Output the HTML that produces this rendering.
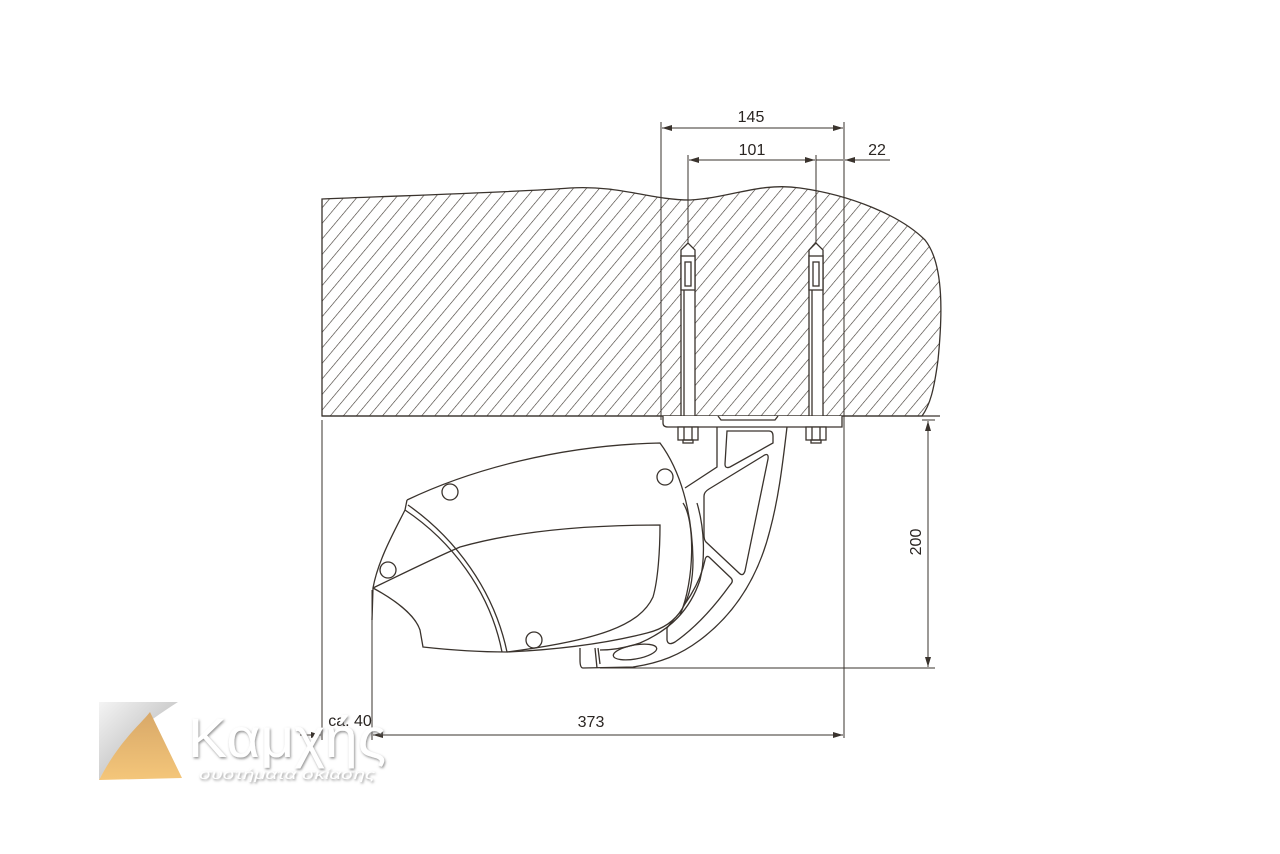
<!DOCTYPE html>
<html><head><meta charset="utf-8"><style>
html,body{margin:0;padding:0;background:#fff;}
svg{display:block}
</style></head><body>
<svg width="1280" height="854" viewBox="0 0 1280 854" xmlns="http://www.w3.org/2000/svg">
<defs>
<pattern id="h" patternUnits="userSpaceOnUse" width="10" height="10" patternTransform="rotate(40)">
<line x1="0" y1="0" x2="0" y2="10" stroke="#3a332d" stroke-width="1.2"/>
</pattern>
<linearGradient id="g1" x1="0" y1="0" x2="1" y2="1"><stop offset="0" stop-color="#f4f4f4"/><stop offset="1" stop-color="#a8a8a8"/></linearGradient>
<linearGradient id="g2" x1="0" y1="0" x2="0" y2="1"><stop offset="0" stop-color="#d8a868"/><stop offset="1" stop-color="#f4c67a"/></linearGradient>
<filter id="sh"><feDropShadow dx="1" dy="1.5" stdDeviation="1.2" flood-color="#777" flood-opacity="0.8"/></filter>
<marker id="a" markerWidth="10" markerHeight="6" refX="10" refY="3" orient="auto-start-reverse" markerUnits="userSpaceOnUse"><path d="M0,0 L10,3 L0,6 z" fill="#3a332d"/></marker>
</defs>
<g stroke="#3a332d" fill="none" stroke-width="1.3">
<path d="M322,199 C420,195 520,192 570,188 C620,185 650,200 690,200 C730,198 760,182 800,188 C850,195 900,215 925,240 C945,265 942,320 938,360 C934,390 930,405 922,416 L322,416 Z" fill="url(#h)"/>
<line x1="322" y1="416" x2="940" y2="416"/>
<g fill="#fff">
<rect x="681" y="256" width="14" height="160"/>
<path d="M681,256 L681,250 L688,243 L695,250 L695,256"/>
<rect x="681" y="256" width="14" height="34"/>
<rect x="685" y="262" width="6" height="24"/>
<rect x="809" y="256" width="14" height="160"/>
<path d="M809,256 L809,250 L816,243 L823,250 L823,256"/>
<rect x="809" y="256" width="14" height="34"/>
<rect x="813" y="262" width="6" height="24"/>
</g>
<line x1="684" y1="290" x2="684" y2="416"/><line x1="812" y1="290" x2="812" y2="416"/>
<line x1="661" y1="122" x2="661" y2="420" stroke-width="1"/>
<line x1="844" y1="122" x2="844" y2="738" stroke-width="1"/>
<line x1="688" y1="155" x2="688" y2="243" stroke-width="1"/>
<line x1="816" y1="155" x2="816" y2="243" stroke-width="1"/>
<line x1="662" y1="128" x2="843" y2="128" stroke-width="1" marker-start="url(#a)" marker-end="url(#a)"/>
<line x1="689" y1="160" x2="815" y2="160" stroke-width="1" marker-start="url(#a)" marker-end="url(#a)"/>
<line x1="816" y1="160" x2="843" y2="160" stroke-width="1"/>
<line x1="890" y1="160" x2="845" y2="160" stroke-width="1" marker-end="url(#a)"/>
<line x1="322" y1="420" x2="322" y2="740" stroke-width="1"/>
<line x1="372" y1="590" x2="372" y2="740" stroke-width="1"/>
<line x1="373" y1="735" x2="843" y2="735" stroke-width="1" marker-start="url(#a)" marker-end="url(#a)"/>
<line x1="300" y1="735" x2="321" y2="735" stroke-width="1" marker-end="url(#a)"/>
<line x1="390" y1="735" x2="373" y2="735" stroke-width="1"/>
<line x1="928" y1="421" x2="928" y2="667" stroke-width="1" marker-start="url(#a)" marker-end="url(#a)"/>
<line x1="600" y1="668" x2="935" y2="668" stroke-width="1"/>
<line x1="922" y1="420" x2="935" y2="420" stroke-width="1"/>
<path d="M663,416 L663,423 Q663,427 668,427 L842,427 L842,416" fill="#fff"/>
<path d="M718,416 L721,420 L775,420 L778,416"/>
<rect x="678" y="427" width="20" height="13" fill="#fff"/><line x1="684" y1="427" x2="684" y2="440"/><line x1="692" y1="427" x2="692" y2="440"/><rect x="683" y="440" width="10" height="3"/>
<rect x="806" y="427" width="20" height="13" fill="#fff"/><line x1="812" y1="427" x2="812" y2="440"/><line x1="820" y1="427" x2="820" y2="440"/><rect x="811" y="440" width="10" height="3"/>
<path d="M717,427 L717,467 L685,488 M787,427 C782,470 778,500 770,530 C760,570 740,610 700,640 C680,655 660,663 633,667 L583,668 Q580,668 580,660 L580,648" />
<path d="M697,503 C705,530 705,560 700,580 C690,610 670,630 640,643 C625,648 612,650 600,650"/>
<path d="M727,431 L769,431 Q773,431 773,436 L773,443 L730,467 Q725,469 725,464 Z"/>
<path d="M709,489 L763,456 Q769,452 768,459 L745,571 Q743,577 739,573 L706,542 Q704,540 704,535 L704,496 Q704,492 709,489 Z"/>
<path d="M709,557 L731,578 Q734,581 730,585 C712,610 695,628 675,642 Q668,646 667,640 L667,628 C685,605 700,585 705,560 Q706,555 709,557 Z"/>
<ellipse cx="635" cy="652" rx="22" ry="7" transform="rotate(-10 635 652)"/>
<path d="M595,648 L597,668 M598,648 L600,664"/>
<path d="M407,500 C470,470 560,445 660,443 C680,470 692,510 693,560 C693,600 680,625 647,633 C600,645 550,650 507,652" fill="#fff"/>
<path d="M683,503 C695,520 695,580 680,615" />
<path d="M407,500 L405,510 C395,530 378,560 373,588 L372,620"/>
<path d="M373,588 C395,600 415,615 420,630 L423,647 C450,650 480,652 507,652"/>
<path d="M373,588 C400,575 430,560 460,547 C520,530 590,525 660,525 C660,550 658,580 653,597 C640,625 600,640 507,652"/>
<path d="M405,510 C450,540 490,590 502,652"/>
<path d="M408,505 C455,538 494,590 507,652"/>
<circle cx="450" cy="492" r="8"/>
<circle cx="665" cy="477" r="8"/>
<circle cx="388" cy="570" r="8"/>
<circle cx="534" cy="640" r="8"/>
</g>
<g font-family="'Liberation Sans', 'DejaVu Sans', sans-serif" font-size="16" fill="#2a2522">
<text x="751" y="122" text-anchor="middle">145</text>
<text x="752" y="155" text-anchor="middle">101</text>
<text x="877" y="155" text-anchor="middle">22</text>
<text x="591" y="727" text-anchor="middle">373</text>
<text x="350" y="726" text-anchor="middle">ca. 40</text>
<text transform="translate(921,542) rotate(-90)" text-anchor="middle">200</text>
</g>
<path d="M99,702 L178,702 C150,720 120,740 99,780 Z" fill="url(#g1)"/>
<path d="M99,780 C120,740 140,725 150,712 L182,778 Z" fill="url(#g2)"/>
<g font-family="'Liberation Sans', 'DejaVu Sans', sans-serif" fill="#fff" filter="url(#sh)">
<text x="188" y="757" font-size="56" textLength="198" lengthAdjust="spacingAndGlyphs">Καμχής</text>
<text x="199" y="779" font-size="14" font-style="italic" textLength="176" lengthAdjust="spacingAndGlyphs">συστήματα σκίασης</text>
</g>
</svg>
</body></html>
